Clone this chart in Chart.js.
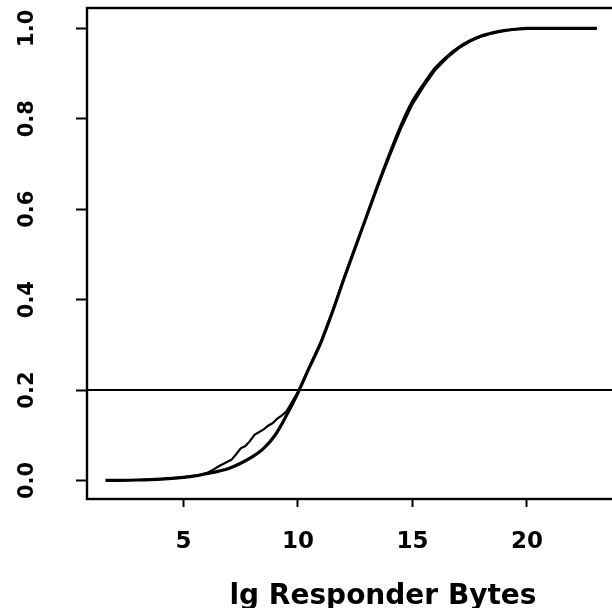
<!DOCTYPE html>
<html>
<head>
<meta charset="utf-8">
<script src="https://cdn.jsdelivr.net/npm/chart.js"></script>
<style>
  html, body { margin: 0; padding: 0; background: #fff; overflow: hidden; }
  #wrap { width: 612px; height: 608px; overflow: hidden; }
  canvas { display: block; }
</style>
</head>
<body>
<div id="wrap"><canvas id="cdf" width="700" height="620"></canvas></div>
<script>
// fitted distribution curve
const fitX = [1.6, 3, 4, 5, 5.5, 6, 6.5, 7, 7.5, 8, 8.5, 9, 9.5, 10, 10.5, 11, 11.5, 12, 12.5, 13,
  13.5, 14, 14.5, 15, 15.5, 16, 16.5, 17, 17.5, 18, 18.5, 19, 19.5, 20, 21, 22, 23.05];
const fitY = [0, 0.001, 0.003, 0.007, 0.01, 0.015, 0.02, 0.027, 0.038, 0.052, 0.071, 0.1, 0.144, 0.194, 0.25, 0.305, 0.372, 0.445, 0.515, 0.585,
  0.655, 0.722, 0.785, 0.838, 0.877, 0.912, 0.937, 0.957, 0.972, 0.983, 0.99, 0.995, 0.998, 1.0, 1.0, 1.0, 1.0];

// empirical cdf
const ecdfX = [1.6, 3, 4, 5, 5.5, 6, 6.3, 6.6, 6.9, 7.1, 7.3, 7.5, 7.7, 7.9, 8.1, 8.3, 8.5, 8.7, 8.9, 9.1, 9.3, 9.5,
  10, 10.5, 11, 11.5, 12, 12.5, 13, 13.5, 14, 14.5, 15, 15.5, 16, 16.5, 17, 17.5, 18, 18.5, 19, 19.5, 20, 21, 22, 23.05];
const ecdfY = [0, 0.001, 0.003, 0.007, 0.01, 0.016, 0.024, 0.033, 0.041, 0.046, 0.058, 0.071, 0.076, 0.087, 0.101, 0.107, 0.113, 0.121, 0.127, 0.137, 0.144, 0.153,
  0.196, 0.252, 0.307, 0.374, 0.447, 0.516, 0.584, 0.652, 0.717, 0.779, 0.832, 0.872, 0.908, 0.934, 0.955, 0.971, 0.982, 0.99, 0.995, 0.998, 1.0, 1.0, 1.0, 1.0];

const refLevel = 0.2;
const xTicks = [5, 10, 15, 20];
const yTicks = [0, 0.2, 0.4, 0.6, 0.8, 1.0];
const xTitle = 'lg Responder Bytes';

const toPoints = (xs, ys) => xs.map((v, i) => ({ x: v, y: ys[i] }));

// box, reference line and the rotated y labels
const rPlot = {
  id: 'rPlot',
  afterDatasetsDraw(chart) {
    const { ctx, chartArea: a, scales: { y } } = chart;
    ctx.save();
    ctx.strokeStyle = '#000';
    ctx.lineWidth = 2;
    const yRef = y.getPixelForValue(refLevel);
    ctx.beginPath();
    ctx.moveTo(a.left, yRef);
    ctx.lineTo(a.right, yRef);
    ctx.stroke();
    ctx.lineWidth = 2.4;
    ctx.strokeRect(a.left, a.top, a.right - a.left, a.bottom - a.top);

    ctx.fillStyle = '#000';
    ctx.font = 'bold 21px "DejaVu Sans"';
    ctx.textAlign = 'center';
    ctx.textBaseline = 'middle';
    yTicks.forEach(v => {
      ctx.save();
      ctx.translate(28, y.getPixelForValue(v));
      ctx.rotate(-Math.PI / 2);
      ctx.fillText(v.toFixed(1), 0, 0);
      ctx.restore();
    });
    ctx.restore();
  }
};

new Chart(document.getElementById('cdf').getContext('2d'), {
  type: 'scatter',
  data: {
    datasets: [
      {
        label: 'fit',
        data: toPoints(fitX, fitY),
        showLine: true,
        borderColor: '#000',
        borderWidth: 3.2,
        pointRadius: 0,
        cubicInterpolationMode: 'monotone'
      },
      {
        label: 'ecdf',
        data: toPoints(ecdfX, ecdfY),
        showLine: true,
        borderColor: '#000',
        borderWidth: 2.2,
        pointRadius: 0,
        tension: 0
      }
    ]
  },
  options: {
    responsive: false,
    animation: false,
    layout: { padding: { top: 8, left: 0, right: 21, bottom: 0 } },
    plugins: { legend: { display: false }, tooltip: { enabled: false } },
    scales: {
      x: {
        type: 'linear',
        min: 0.786,
        max: 26.64,
        afterBuildTicks: s => { s.ticks = xTicks.map(v => ({ value: v })); },
        afterFit: s => { s.height = 121; },
        border: { display: false },
        grid: { drawOnChartArea: false, drawTicks: true, tickLength: 8, tickColor: '#000', tickWidth: 2 },
        ticks: {
          color: '#000',
          padding: 21,
          maxRotation: 0,
          font: { family: 'DejaVu Sans', size: 23, weight: 'bold' }
        },
        title: {
          display: true,
          text: xTitle,
          color: '#000',
          padding: { top: 0, bottom: 6 },
          font: { family: 'DejaVu Sans', size: 28, weight: 'bold' }
        }
      },
      y: {
        type: 'linear',
        min: -0.041,
        max: 1.045,
        afterBuildTicks: s => { s.ticks = yTicks.map(v => ({ value: v })); },
        afterFit: s => { s.width = 87; },
        border: { display: false },
        grid: { drawOnChartArea: false, drawTicks: true, tickLength: 11, tickColor: '#000', tickWidth: 2 },
        ticks: { display: false }
      }
    }
  },
  plugins: [rPlot]
});
</script>
</body>
</html>
